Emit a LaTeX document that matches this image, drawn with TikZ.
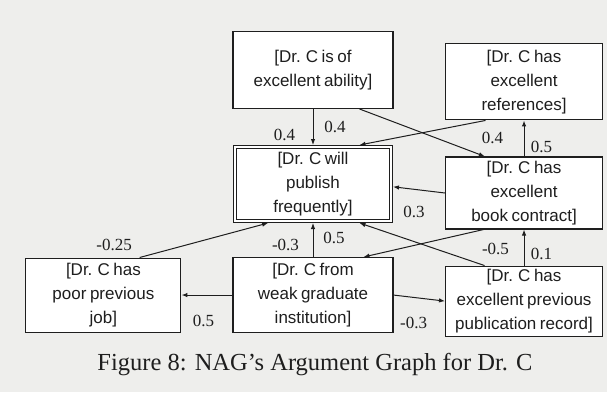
\documentclass[tikz,border=0pt]{standalone}
\usepackage{fontspec}
\setmainfont{Liberation Serif}
\setsansfont{Liberation Sans}[WordSpace=0.75]
\usetikzlibrary{arrows.meta,positioning}
\definecolor{inkgray}{RGB}{30,30,30}
\definecolor{paper}{RGB}{238,238,236}

\begin{document}
\begin{tikzpicture}[
  font=\sffamily\fontsize{17}{24}\selectfont,
  box/.style={draw=inkgray, line width=1.1pt, fill=white, align=center, inner sep=2pt, text=inkgray, minimum width=157pt, minimum height=74pt},
  goal/.style={box, double=white, double distance=2.2pt, line width=0.9pt, outer sep=2pt, minimum width=156pt, minimum height=74pt},
  arr/.style={-{Latex[length=6pt,width=4.5pt]}, line width=1pt, inkgray},
  wt/.style={font=\rmfamily\fontsize{17}{20}\selectfont, text=inkgray, inner sep=1pt}
]
\fill[paper] (-313pt,-208pt) rectangle (294pt,184pt);
\node[goal] (publish) {[Dr. C will\\publish\\frequently]};
\node[box, above=36pt of publish, minimum width=160pt, minimum height=77pt] (ability) {[Dr. C is of\\excellent ability]};
\node[box, below=34pt of publish, minimum width=160pt, minimum height=75pt] (weak) {[Dr. C from\\weak graduate\\institution]};
\node[box, left=51pt of weak, minimum width=155pt] (poorjob) {[Dr. C has\\poor previous\\job]};
\node[box, right=52pt of publish, yshift=-9pt, minimum height=72pt] (book) {[Dr. C has\\excellent\\book contract]};
\node[box, above=36pt of book, minimum height=76pt] (refs) {[Dr. C has\\excellent\\references]};
\node[box, below=36pt of book, minimum height=70pt] (pubrec) {[Dr. C has\\excellent previous\\publication record]};
\node[font=\rmfamily\fontsize{24.5}{28}\selectfont, text=inkgray, anchor=base] (caption) at (2pt,-186pt) {Figure 8: NAG’s Argument Graph for Dr. C};

\draw[arr] (ability) -- (publish)
  node[wt, pos=.71, xshift=-28.5pt] (w1) {0.4}
  node[wt, pos=.49, xshift=22pt] (w2) {0.4};
\draw[arr] (ability.-40) -- (book.137);
\draw[arr] (refs.-135) -- (publish.40)
  node[wt, at start, xshift=7pt, yshift=-18pt] (w3) {0.4};
\draw[arr] (book) -- (refs)
  node[wt, pos=.27, xshift=17.5pt] (w4) {0.5};
\draw[arr] (book.west) -- (publish.-2)
  node[wt, at end, xshift=21pt, yshift=-25.5pt] (w5) {0.3};
\draw[arr] (book.-138) -- (weak.37)
  node[wt, at start, xshift=12pt, yshift=-19pt] (w6) {-0.5};
\draw[arr] (pubrec) -- (book)
  node[wt, pos=.32, xshift=17.5pt] (w7) {0.1};
\draw[arr] (pubrec.138) -- (publish.-40);
\draw[arr] (weak) -- (publish)
  node[wt, pos=.35, xshift=-27.5pt] (w8) {-0.3}
  node[wt, pos=.57, xshift=21pt] (w9) {0.5};
\draw[arr] (poorjob.46) -- (publish.-139)
  node[wt, at start, xshift=-25.5pt, yshift=13pt] (w10) {-0.25};
\draw[arr] (weak.west) -- (poorjob.east)
  node[wt, pos=.57, yshift=-25.5pt] (w11) {0.5};
\draw[arr] (weak.east) -- (pubrec.west)
  node[wt, pos=.39, yshift=-26pt] (w12) {-0.3};
\end{tikzpicture}
\end{document}
